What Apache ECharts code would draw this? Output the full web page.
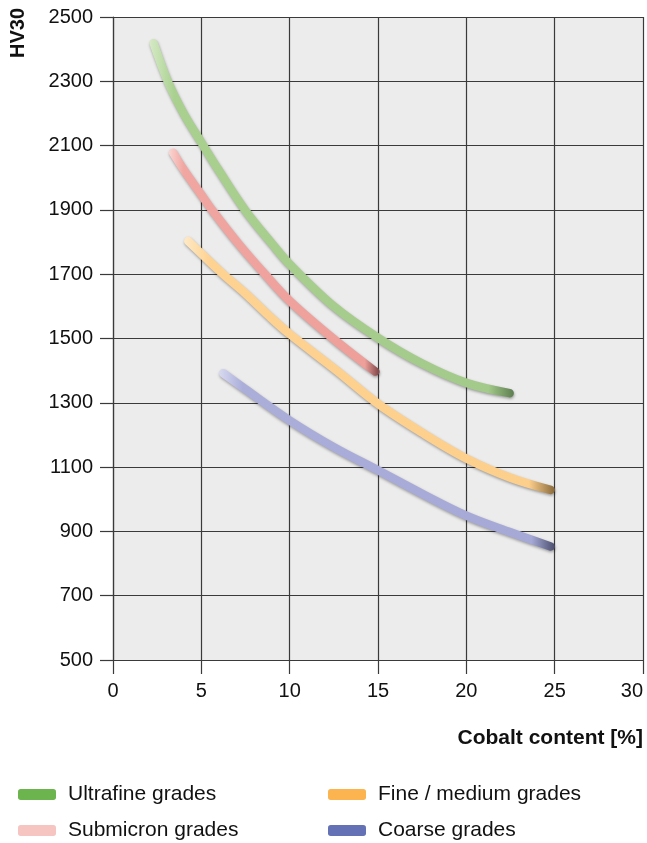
<!DOCTYPE html>
<html>
<head>
<meta charset="utf-8">
<script src="https://cdn.jsdelivr.net/npm/echarts@6/dist/echarts.min.js"></script>
<style>
  html, body { margin: 0; padding: 0; background: #ffffff; }
  #chart { width: 647px; height: 843px; }
</style>
</head>
<body>
<div id="chart"></div>
<script>
// ---- data ----
const seriesNames = ['Ultrafine grades', 'Submicron grades', 'Fine / medium grades', 'Coarse grades'];
const ultrafine = [[2.3,2418],[3.1,2300],[4,2200],[5,2110],[6,2022],[7.47,1900],[9,1795],[10,1731],[12.5,1600],[15,1502],[17.5,1422],[20,1362],[22.45,1330]];
const submicron = [[3.4,2078],[4,2025],[5,1947],[5.6,1900],[7.1,1795],[8.6,1700],[10,1617],[12.5,1498],[14.85,1397]];
const fineMedium = [[4.26,1803],[5,1764],[6.2,1702],[7.5,1640],[8.9,1567],[10,1514],[12.65,1401],[15,1297],[17.5,1207],[20,1127],[22.5,1067],[24.77,1029]];
const coarse = [[6.24,1392],[7.5,1342],[10,1245],[12.5,1162],[15,1090],[17.5,1017],[20,949],[22.5,897],[24.77,853]];
const xTicks = [0, 5, 10, 15, 20, 25, 30];
const yTicks = [500, 700, 900, 1100, 1300, 1500, 1700, 1900, 2100, 2300, 2500];

// ---- styles ----
const FONT = '"Liberation Sans", Arial, Helvetica, sans-serif';
const legendColors = ['#6cb44e', '#f6c4c1', '#fbb44f', '#6571b5'];
const tubeColors = [
  ['#d6eac6', '#a9d08f', '#a3ca8a', '#5d7d50'],
  ['#fad6d3', '#f1a6a1', '#ee9f9a', '#7a4343'],
  ['#fee9c6', '#fed291', '#fdcf8c', '#8a6a3b'],
  ['#d8daf0', '#abaed9', '#a6a9d6', '#4c4f6e']
];
function tube(c) {
  return {
    type: 'linear', x: 0, y: 0, x2: 1, y2: 0,
    colorStops: [
      { offset: 0, color: c[0] },
      { offset: 0.07, color: c[1] },
      { offset: 0.93, color: c[2] },
      { offset: 1, color: c[3] }
    ]
  };
}
const datasets = [ultrafine, submicron, fineMedium, coarse];
const legendPos = [[13, 779], [13, 815], [323, 779], [323, 815]];

const chart = echarts.init(document.getElementById('chart'), null, { renderer: 'canvas' });
const gridLine = { color: '#3a3a3a', width: 1.2 };

chart.setOption({
  animation: false,
  textStyle: { fontFamily: FONT },
  grid: {
    left: 113, right: 4, top: 17, bottom: 183,
    show: true, backgroundColor: '#ececec', borderWidth: 0
  },
  xAxis: {
    type: 'value', min: xTicks[0], max: xTicks[xTicks.length - 1], interval: 5,
    axisLine: { show: true, lineStyle: gridLine },
    axisTick: { show: true, length: 14, lineStyle: gridLine },
    splitLine: { show: true, lineStyle: gridLine },
    axisLabel: { color: '#111', fontSize: 20, fontFamily: FONT, margin: 21, alignMaxLabel: 'right' },
    name: 'Cobalt content [%]',
    nameLocation: 'end', nameGap: 0,
    nameTextStyle: { color: '#111', fontSize: 21, fontWeight: 'bold', fontFamily: FONT,
      align: 'right', verticalAlign: 'top', padding: [68, 0, 0, 0] }
  },
  yAxis: {
    type: 'value', min: yTicks[0], max: yTicks[yTicks.length - 1], interval: 200,
    axisLine: { show: true, lineStyle: gridLine },
    axisTick: { show: true, length: 13, lineStyle: gridLine },
    splitLine: { show: true, lineStyle: gridLine },
    axisLabel: { color: '#111', fontSize: 20, fontFamily: FONT, margin: 20,
      formatter: function (v) { return String(v); } }
  },
  graphic: [{
    type: 'text', x: 18, y: 8, rotation: Math.PI / 2,
    style: { text: 'HV30', fill: '#111', font: 'bold 20px ' + FONT,
      align: 'right', verticalAlign: 'middle', textAlign: 'right', textVerticalAlign: 'middle' }
  }],
  legend: seriesNames.map(function (name, i) {
    return {
      left: legendPos[i][0], top: legendPos[i][1],
      itemWidth: 38, itemHeight: 11, icon: 'roundRect', selectedMode: false,
      textStyle: { fontSize: 21, color: '#111', fontFamily: FONT, padding: [0, 0, 0, 7] },
      itemStyle: { borderWidth: 0 },
      data: [{ name: name, icon: 'roundRect', itemStyle: { color: legendColors[i], borderWidth: 0 } }]
    };
  }),
  series: seriesNames.map(function (name, i) {
    return {
      name: name, type: 'line', data: datasets[i],
      smooth: 0.35, showSymbol: false, symbol: 'none',
      itemStyle: { color: legendColors[i] },
      lineStyle: {
        color: tube(tubeColors[i]), width: 8.5, cap: 'round', join: 'round',
        shadowColor: 'rgba(0,0,0,0.35)', shadowBlur: 3, shadowOffsetY: 1.5, shadowOffsetX: 0.5
      },
      emphasis: { disabled: true },
      z: 3 + i
    };
  })
});
</script>
</body>
</html>
